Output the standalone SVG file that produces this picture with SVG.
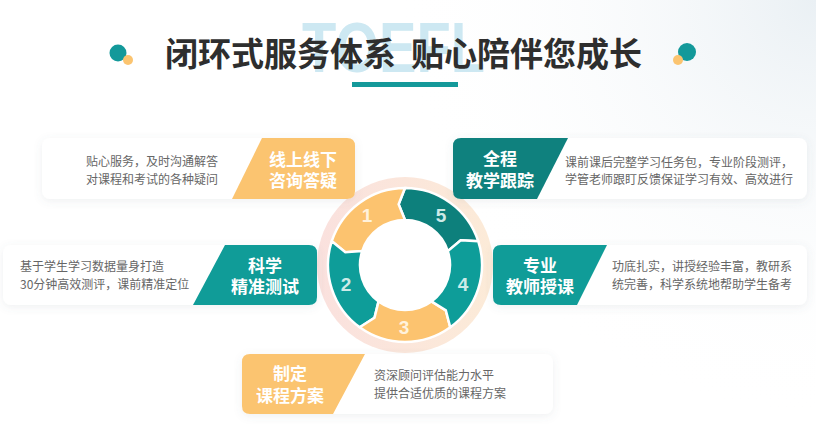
<svg xmlns="http://www.w3.org/2000/svg" width="816" height="433" viewBox="0 0 816 433">
  <defs>
    <radialGradient id="bgGlow" cx="816" cy="0" r="420" gradientUnits="userSpaceOnUse">
      <stop offset="0" stop-color="#EAF0F4"/>
      <stop offset="1" stop-color="#FFFFFF" stop-opacity="0"/>
    </radialGradient>
    <linearGradient id="halo" x1="0" y1="0" x2="1" y2="0">
      <stop offset="0" stop-color="#FAE1DE"/>
      <stop offset="1" stop-color="#FCEBD8"/>
    </linearGradient>
    <filter id="shadow" x="-10%" y="-30%" width="120%" height="160%">
      <feDropShadow dx="0" dy="2" stdDeviation="4" flood-color="#5A6E7A" flood-opacity="0.10"/>
    </filter>
    <filter id="soft" x="-20%" y="-20%" width="140%" height="140%">
      <feGaussianBlur stdDeviation="1.2"/>
    </filter>
  </defs>
  <style>
    .card { fill: #FFFFFF; }
    .orange { fill: #FBC470; }
    .teal { fill: #109C98; }
    .dteal { fill: #0F817E; }
    .tag { font-family: "Noto Sans CJK SC", "Noto Sans", sans-serif; font-size: 17px; font-weight: 700; fill: #FFFFFF; text-anchor: middle; }
    .desc { font-family: "Noto Sans CJK SC", "Noto Sans", sans-serif; font-size: 12px; fill: #666666; }
    .title { font-family: "Noto Sans CJK SC", "Noto Sans", sans-serif; font-size: 33px; font-weight: 700; fill: #2E2E2E; }
    .seg { stroke: #FFFFFF; stroke-width: 2.5; stroke-linejoin: miter; }
    .num { font-family: "Liberation Sans", "Noto Sans", sans-serif; font-size: 19px; font-weight: 700; text-anchor: middle; }
  </style>

  <rect x="0" y="0" width="816" height="433" fill="#FFFFFF"/>
  <rect x="0" y="0" width="816" height="433" fill="url(#bgGlow)"/>

  <g id="header">
    <text x="302" y="72" font-family="Liberation Sans, Arial, sans-serif" font-size="70" font-weight="700" fill="#CDE8F2" textLength="183" lengthAdjust="spacingAndGlyphs">TOEFL</text>
    <circle cx="118" cy="53" r="8.5" fill="#13999A"/>
    <circle cx="128" cy="60" r="5" fill="#FBC470"/>
    <circle cx="687" cy="52" r="9" fill="#13999A"/>
    <circle cx="678" cy="60" r="5" fill="#FBC470"/>
    <text class="title" x="396" y="66" text-anchor="end">闭环式服务体系</text>
    <text class="title" x="411" y="66">贴心陪伴您成长</text>
    <rect x="352" y="82" width="106" height="5" fill="#14999A"/>
  </g>

  <g id="cycle">
    <circle cx="405" cy="265" r="88" fill="url(#halo)"/>
    <circle cx="405" cy="265" r="46" fill="#FFFFFF"/>
    <path id="seg5" class="seg" fill="#0D807C" d="M478.23,241.21 A77,77 0 0 0 405,188 L398.62,204.33 L405,220 A45,45 0 0 1 447.80,251.09 L460.73,240.19 Z"/>
    <path id="seg1" class="seg" fill="#FCC36F" d="M405,188 A77,77 0 0 0 331.77,241.21 L345.33,252.32 L362.20,251.09 A45,45 0 0 1 405,220 L398.62,204.33 Z"/>
    <path id="seg2" class="seg" fill="#0E9D99" d="M331.77,241.21 A77,77 0 0 0 359.74,327.29 L374.5,317.83 L378.55,301.41 A45,45 0 0 1 362.20,251.09 L345.33,252.32 Z"/>
    <path id="seg3" class="seg" fill="#FCC36F" d="M359.74,327.29 A77,77 0 0 0 450.26,327.29 L445.82,310.33 L431.45,301.41 A45,45 0 0 1 378.55,301.41 L374.5,317.83 Z"/>
    <path id="seg4" class="seg" fill="#0E9D99" d="M450.26,327.29 A77,77 0 0 0 478.23,241.21 L460.73,240.19 L447.80,251.09 A45,45 0 0 1 431.45,301.41 L445.82,310.33 Z"/>
    <text class="num" x="441" y="222" fill="#CDEBE8">5</text>
    <text class="num" x="367" y="222" fill="#FFF2DC">1</text>
    <text class="num" x="346" y="291" fill="#CDEBE8">2</text>
    <text class="num" x="404" y="334" fill="#FFF2DC">3</text>
    <text class="num" x="463" y="291" fill="#CDEBE8">4</text>
  </g>

  <g id="node-consult">
    <rect class="card" x="42" y="138" width="313" height="61" rx="8" filter="url(#shadow)"/>
    <path class="orange" d="M262,138 H347 Q355,138 355,146 V191 Q355,199 347,199 H232 Z"/>
    <text class="tag" x="303" y="165.5">线上线下</text>
    <text class="tag" x="303" y="187">咨询答疑</text>
    <text class="desc" x="218" y="166" text-anchor="end">贴心服务，及时沟通解答</text>
    <text class="desc" x="218" y="183.5" text-anchor="end">对课程和考试的各种疑问</text>
  </g>

  <g id="node-test">
    <rect class="card" x="3" y="245" width="314" height="60" rx="8" filter="url(#shadow)"/>
    <path class="teal" d="M225,245 H309 Q317,245 317,253 V297 Q317,305 309,305 H193 Z"/>
    <text class="tag" x="265" y="271.5">科学</text>
    <text class="tag" x="265" y="292.5">精准测试</text>
    <text class="desc" x="20" y="270.5">基于学生学习数据量身打造</text>
    <text class="desc" x="20" y="288.5">30分钟高效测评，课前精准定位</text>
  </g>

  <g id="node-track">
    <rect class="card" x="453" y="138" width="354" height="61" rx="8" filter="url(#shadow)"/>
    <path class="dteal" d="M461,138 H568 L537,199 H461 Q453,199 453,191 V146 Q453,138 461,138 Z"/>
    <text class="tag" x="500" y="164.5">全程</text>
    <text class="tag" x="500" y="186.5">教学跟踪</text>
    <text class="desc" x="565" y="166.5">课前课后完整学习任务包，专业阶段测评，</text>
    <text class="desc" x="565" y="183.5">学管老师跟盯反馈保证学习有效、高效进行</text>
  </g>

  <g id="node-teach">
    <rect class="card" x="493" y="245" width="314" height="60" rx="8" filter="url(#shadow)"/>
    <path class="teal" d="M501,245 H607 L577,305 H501 Q493,305 493,297 V253 Q493,245 501,245 Z"/>
    <text class="tag" x="540" y="271.5">专业</text>
    <text class="tag" x="540" y="292.5">教师授课</text>
    <text class="desc" x="612" y="270.5">功底扎实，讲授经验丰富，教研系</text>
    <text class="desc" x="612" y="288.5">统完善，科学系统地帮助学生备考</text>
  </g>

  <g id="node-plan">
    <rect class="card" x="242" y="354" width="311" height="60" rx="8" filter="url(#shadow)"/>
    <path class="orange" d="M250,354 H365 L333,414 H250 Q242,414 242,406 V362 Q242,354 250,354 Z"/>
    <text class="tag" x="290" y="379.5">制定</text>
    <text class="tag" x="290" y="401.5">课程方案</text>
    <text class="desc" x="374" y="379.5">资深顾问评估能力水平</text>
    <text class="desc" x="374" y="397.5">提供合适优质的课程方案</text>
  </g>

  <g id="connectors"></g>
</svg>
